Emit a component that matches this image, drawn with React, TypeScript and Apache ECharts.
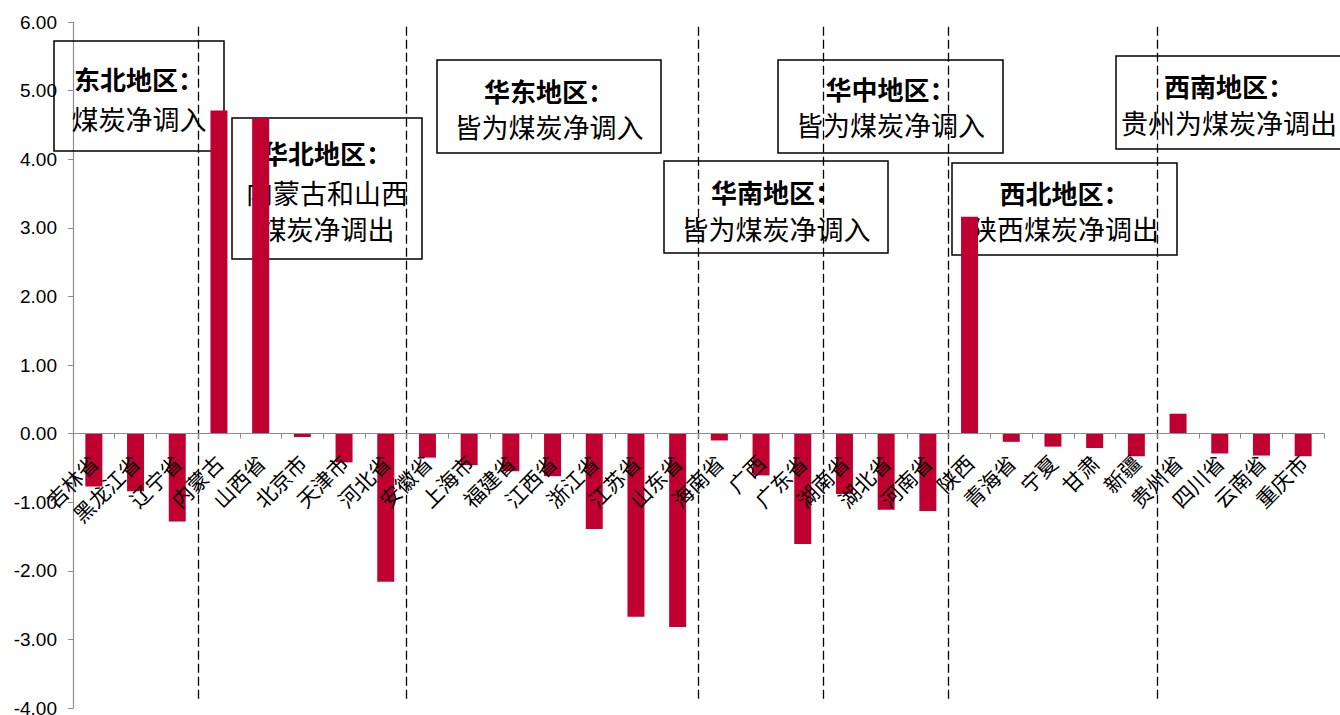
import React, { useEffect, useRef } from "react";
import * as echarts from "echarts";

const categories = [
  "吉林省", "黑龙江省", "辽宁省", "内蒙古", "山西省", "北京市", "天津市", "河北省",
  "安徽省", "上海市", "福建省", "江西省", "浙江省", "江苏省", "山东省",
  "海南省", "广西", "广东省", "湖南省", "湖北省", "河南省",
  "陕西", "青海省", "宁夏", "甘肃", "新疆", "贵州省", "四川省", "云南省", "重庆市",
];

const netValues = [
  -0.77, -0.84, -1.28, 4.71, 4.6, -0.05, -0.42, -2.16,
  -0.35, -0.46, -0.55, -0.62, -1.39, -2.67, -2.82,
  -0.1, -0.61, -1.61, -0.88, -1.11, -1.13,
  3.16, -0.12, -0.19, -0.21, -0.33, 0.29, -0.29, -0.32, -0.33,
];

// region boundaries (in category units)
const regionBoundaries = [3, 8, 15, 18, 21, 26];

const yTicks = [-4, -3, -2, -1, 0, 1, 2, 3, 4, 5, 6];

const regionTitles = ["东北地区：", "华北地区：", "华东地区：", "华南地区：", "华中地区：", "西北地区：", "西南地区："];
const regionNotes = [
  ["煤炭净调入"],
  ["内蒙古和山西", "煤炭净调出"],
  ["皆为煤炭净调入"],
  ["皆为煤炭净调入"],
  ["皆为煤炭净调入"],
  ["陕西煤炭净调出"],
  ["贵州为煤炭净调出"],
];

// annotation box layout (pixels)
const boxLayout = [
  { x: 54, y: 41, w: 170, h: 110, ty: [78, 118] },
  { x: 232, y: 118, w: 190, h: 141, ty: [152, 192, 228] },
  { x: 437, y: 60, w: 224, h: 93, ty: [90, 126] },
  { x: 664, y: 161, w: 224, h: 92, ty: [191, 228] },
  { x: 778, y: 60, w: 225, h: 93, ty: [88, 124] },
  { x: 952, y: 163, w: 225, h: 92, ty: [192, 228] },
  { x: 1116, y: 56, w: 226, h: 93, ty: [85, 122] },
];

const CJK = '"Noto Sans CJK SC", "Noto Sans", sans-serif';

export default function App() {
  const ref = useRef<HTMLDivElement>(null);

  useEffect(() => {
    document.body.style.margin = "0";
    if (!ref.current) return;
    const chart = echarts.init(ref.current, undefined, { renderer: "svg" });

    const graphics: any[] = [];
    boxLayout.forEach((b, i) => {
      graphics.push({
        type: "rect",
        shape: { x: b.x, y: b.y, width: b.w, height: b.h },
        style: { fill: "rgba(255,255,255,0)", stroke: "#000", lineWidth: 1.5 },
        z: 1,
      });
      const lines = [regionTitles[i], ...regionNotes[i]];
      lines.forEach((t, j) => {
        const size = j === 0 ? 26 : 27;
        graphics.push({
          type: "text",
          x: b.x + b.w / 2,
          y: b.ty[j],
          z: 1,
          style: {
            text: t,
            fill: "#000",
            font: `${j === 0 ? "bold" : "normal"} ${size}px ${CJK}`,
            lineHeight: size,
            align: "center",
            verticalAlign: "middle",
          },
        });
      });
    });

    chart.setOption({
      animation: false,
      backgroundColor: "#fff",
      grid: { left: 73, right: 16, top: 22, bottom: 7, outerBoundsMode: "none", containLabel: false },
      xAxis: [
        {
          type: "category",
          data: categories,
          axisLine: { onZero: false, lineStyle: { color: "#8c8c8c", width: 1.2 } },
          axisTick: { show: true, length: 5, lineStyle: { color: "#8c8c8c" } },
          axisLabel: {
            interval: 0,
            rotate: 45,
            margin: 25,
            fontSize: 21,
            color: "#000",
            fontFamily: CJK,
          },
          splitLine: { show: false },
          z: 6,
        },
        { type: "value", min: 0, max: 30, show: false },
      ],
      yAxis: {
        type: "value",
        min: yTicks[0],
        max: yTicks[yTicks.length - 1],
        interval: 1,
        axisLine: { show: true, lineStyle: { color: "#8c8c8c", width: 1.2 } },
        axisTick: { show: true, length: 5, lineStyle: { color: "#8c8c8c" } },
        axisLabel: {
          formatter: (v: number) => v.toFixed(2),
          fontSize: 19,
          color: "#000",
          fontFamily: '"Liberation Sans", Arial, sans-serif',
          margin: 16,
        },
        splitLine: { show: false },
      },
      series: [
        {
          type: "bar",
          data: netValues,
          barWidth: 17,
          itemStyle: { color: "#BF0030" },
          z: 5,
        },
        {
          type: "scatter",
          xAxisIndex: 1,
          data: [[0, 0]],
          symbolSize: 0,
          silent: true,
          z: 7,
          markLine: {
            silent: true,
            symbol: ["none", "none"],
            label: { show: false },
            lineStyle: { type: [9, 4], color: "#000", width: 1.3 },
            data: regionBoundaries.map((b) => [
              { coord: [b, 5.93] },
              { coord: [b, -3.9] },
            ]),
          },
        },
      ],
      graphic: graphics,
    });

    // move the category axis (line, ticks, labels) up to the zero line
    const zeroY = chart.convertToPixel({ yAxisIndex: 0 }, 0) as number;
    const bottomY = chart.convertToPixel({ yAxisIndex: 0 }, yTicks[0]) as number;
    chart.setOption({ xAxis: [{ offset: zeroY - bottomY }, {}] });

    return () => chart.dispose();
  }, []);

  return <div ref={ref} style={{ width: 1340, height: 715 }} />;
}
